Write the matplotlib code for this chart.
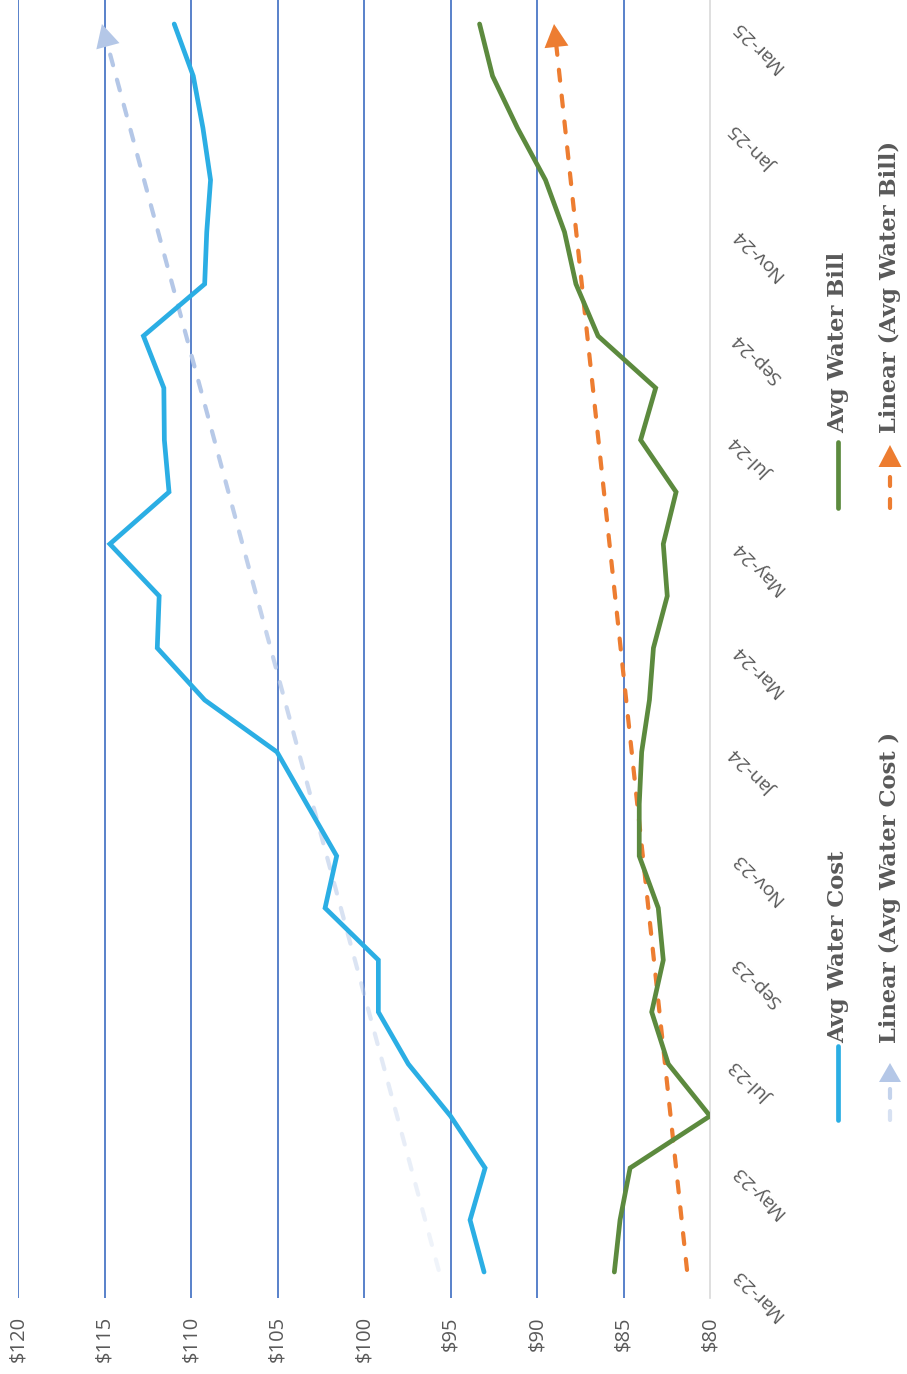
import numpy as np
import matplotlib
matplotlib.use("Agg")
import matplotlib.pyplot as plt
from matplotlib.lines import Line2D
from matplotlib.patches import Polygon
from matplotlib.collections import LineCollection
from matplotlib.transforms import IdentityTransform
from matplotlib.colors import to_rgb

# ---- data -------------------------------------------------------------
months = ["Mar-23", "Apr-23", "May-23", "Jun-23", "Jul-23", "Aug-23", "Sep-23",
          "Oct-23", "Nov-23", "Dec-23", "Jan-24", "Feb-24", "Mar-24", "Apr-24",
          "May-24", "Jun-24", "Jul-24", "Aug-24", "Sep-24", "Oct-24", "Nov-24",
          "Dec-24", "Jan-25", "Feb-25", "Mar-25"]
avg_water_cost = [93.06, 93.87, 93.00, 95.00, 97.44, 99.17, 99.17, 102.25, 101.58,
                  103.31, 105.03, 109.21, 111.95, 111.84, 114.69, 111.27, 111.54,
                  111.57, 112.75, 109.21, 109.09, 108.87, 109.31, 109.87, 110.97]
avg_water_bill = [85.53, 85.20, 84.62, 80.00, 82.41, 83.37, 82.70, 82.99, 84.09,
                  84.09, 83.95, 83.50, 83.27, 82.47, 82.70, 81.96, 84.01, 83.14,
                  86.47, 87.75, 88.41, 89.51, 91.13, 92.57, 93.32]
value_ticks = [120, 115, 110, 105, 100, 95, 90, 85, 80]
series_names = ["Avg Water Cost", "Avg Water Bill"]
trend_names = ["Linear (Avg Water Cost )", "Linear (Avg Water Bill)"]

# ---- style ------------------------------------------------------------
C_COST = "#2BAEE4"
C_BILL = "#5C8A3E"
C_COST_TREND = "#B4C7E7"
C_BILL_TREND = "#ED7D31"
C_GRID = "#4472C4"
C_TEXT = "#595959"
TICK_FONT = ["Open Sans", "DejaVu Sans"]
LEG_FONT = ["DejaVu Serif"]

W, H = 907, 1374
fig = plt.figure(figsize=(W / 100, H / 100), dpi=100)
ax = fig.add_axes([18 / W, (H - 1298) / H, (710 - 18) / W, 1300 / H])

idx = np.arange(len(months))
ax.set_xlim(value_ticks[0], value_ticks[-1])
ax.set_ylim(-0.5, len(months) - 0.5)

for v in value_ticks:
    if v != value_ticks[-1]:
        ax.axvline(v, color=C_GRID, lw=1.25, zorder=1)

for s in ["top", "left", "bottom"]:
    ax.spines[s].set_visible(False)
ax.spines["right"].set_color("#D9D9D9")
ax.spines["right"].set_linewidth(1.2)

ax.set_xticks(value_ticks)
ax.set_xticklabels([f"${v}" for v in value_ticks], rotation=90,
                   family=TICK_FONT, fontsize=14.5, color=C_TEXT)
ax.tick_params(axis="x", length=0, pad=13)

ax.yaxis.tick_right()
ax.set_yticks(idx[::2])
ax.set_yticklabels(months[::2], family=TICK_FONT, fontsize=14, color=C_TEXT)
ax.tick_params(axis="y", length=0, pad=18)
for lab in ax.get_yticklabels():
    lab.set_rotation(135)
    lab.set_rotation_mode("anchor")
    lab.set_ha("right")
    lab.set_va("center")

ax.plot(avg_water_cost, idx, color=C_COST, lw=3.4, solid_joinstyle="miter",
        solid_capstyle="round", zorder=4)
ax.plot(avg_water_bill, idx, color=C_BILL, lw=3.4, solid_joinstyle="miter",
        solid_capstyle="round", zorder=4)


def dashed_arrow(target, p0, p1, color, a0=1.0, a1=1.0, full_at=1.0, lw_px=4.2,
                 dash=11.0, gap=15.0, head_len=23.0, head_w=24.0, zorder=3):
    """Dashed line from p0 to p1 (pixel coords) ending in a triangular head,
    with opacity fading from a0 at p0 to a1 at fraction full_at."""
    p0 = np.asarray(p0, float)
    p1 = np.asarray(p1, float)
    L = np.hypot(*(p1 - p0))
    d = (p1 - p0) / L
    n = np.array([-d[1], d[0]])
    rgb = to_rgb(color)
    shaft = L - head_len
    segs, cols = [], []
    s = lw_px / 2
    while s < shaft:
        e = min(s + dash, shaft)
        segs.append([p0 + d * s, p0 + d * e])
        t = min(1.0, ((s + e) / 2 / L) / full_at)
        cols.append((*rgb, a0 + (a1 - a0) * t))
        s = e + gap
    lc = LineCollection(segs, colors=cols, linewidths=lw_px * 0.72,
                        capstyle="round", transform=IdentityTransform(),
                        zorder=zorder)
    base = p1 - d * head_len
    tri = Polygon([p1, base + n * head_w / 2, base - n * head_w / 2],
                  closed=True, transform=IdentityTransform(),
                  facecolor=(*rgb, a1), edgecolor="none", zorder=zorder)
    if target is ax:
        ax.add_collection(lc, autolim=False)
        ax.add_patch(tri)
    else:
        fig.add_artist(lc)
        fig.add_artist(tri)


# linear trends of each series
for vals, col, fade in [(avg_water_cost, C_COST_TREND, (0.18, 1.0, 0.7)),
                        (avg_water_bill, C_BILL_TREND, (1.0, 1.0, 1.0))]:
    k, b = np.polyfit(idx, vals, 1)
    ends = np.polyval([k, b], idx[[0, -1]])
    q0 = ax.transData.transform((ends[0], idx[0]))
    q1 = ax.transData.transform((ends[1], idx[-1]))
    dashed_arrow(ax, q0, q1, col, a0=fade[0], a1=fade[1], full_at=fade[2])

# ---- legend (rotated, drawn in pixel space) ----------------------------
def px(x, y_img):
    return np.array([x, H - y_img], float)


leg_x1, leg_x2 = 838, 890
fig.add_artist(Line2D([leg_x1 / W] * 2, [(H - 1120) / H, (H - 1046) / H],
                      color=C_COST, lw=3.4, solid_capstyle="round"))
fig.add_artist(Line2D([leg_x1 / W] * 2, [(H - 508) / H, (H - 442) / H],
                      color=C_BILL, lw=3.4, solid_capstyle="round"))
dashed_arrow(fig, px(leg_x2, 1122), px(leg_x2, 1063), C_COST_TREND, a0=0.45,
             a1=1.0, full_at=0.8, dash=9, gap=13, head_len=19, head_w=22)
dashed_arrow(fig, px(leg_x2, 510), px(leg_x2, 445), C_BILL_TREND,
             dash=9, gap=13, head_len=22, head_w=23)

for x, y_img, label in [(leg_x1, 1043, series_names[0]),
                        (leg_x2, 1043, trend_names[0]),
                        (leg_x1, 433, series_names[1]),
                        (leg_x2, 433, trend_names[1])]:
    fig.text(x / W, (H - y_img) / H, label, rotation=90, ha="center",
             va="bottom", family=LEG_FONT, fontweight="bold", fontsize=16.3,
             color=C_TEXT)

fig.savefig("out.png", dpi=100)
